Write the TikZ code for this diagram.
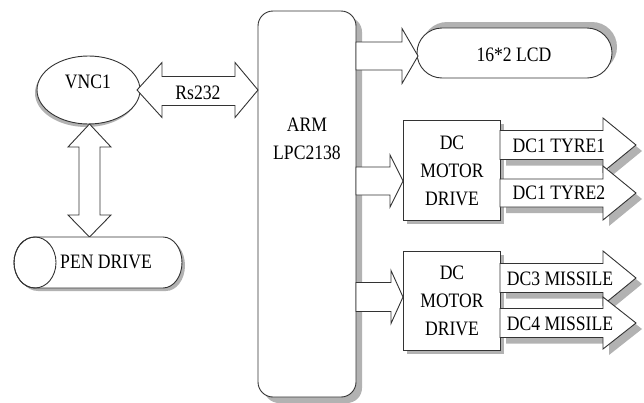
\documentclass[tikz,border=0pt]{standalone}
\usepackage{fontspec}
\setmainfont{Liberation Serif}[FakeStretch=0.86]
\usetikzlibrary{shapes.geometric,shapes.misc,shadows}
\tikzset{
  ln/.style={draw=black!80, line width=0.9pt},
  shd/.style={drop shadow={shadow xshift=#1, shadow yshift=-#1, opacity=1, fill=black!30}},
  shd/.default=5pt,
  txt/.style={font=\fontsize{20.5}{28}\selectfont, inner sep=0pt, align=center},
  blk/.style={ln, fill=white},
}
% right-pointing block arrow: style, x0, xhead, xtip, ycentre, shaft half, head half
\newcommand{\rblk}[7]{\path[#1] (#2,{#5-#6}) -- (#3,{#5-#6}) -- (#3,{#5-#7}) -- (#4,#5) -- (#3,{#5+#7}) -- (#3,{#5+#6}) -- (#2,{#5+#6}) -- cycle;}
\begin{document}
\begin{tikzpicture}[x=1pt,y=-1pt]
\useasboundingbox (0,0) rectangle (644,402);
% ARM block
\node (arm) [blk, shd=6pt, rounded corners=15pt, minimum width=98pt, minimum height=386pt] at (307,204) {};
\node (armtxt) [txt] at (307,139) {ARM\\LPC2138};
% VNC1
\node (vnc) [blk, ellipse, drop shadow={shadow xshift=-2pt, shadow yshift=-3pt, opacity=1, fill=black!30}, minimum width=103pt, minimum height=68pt, inner sep=0pt] at (88.5,90) {};
\node (vnctxt) [txt] at (88,82) {VNC1};
% Rs232 double arrow
\path[blk] (137,90) -- (162,62.5) -- (162,76.5) -- (235,76.5) -- (235,62.5) -- (258,90) -- (235,117.5) -- (235,105.5) -- (162,105.5) -- (162,117.5) -- cycle;
\node (rs) [txt] at (198,93) {Rs232};
% vertical double arrow VNC1 <-> PEN DRIVE
\path[blk] (89.5,124) -- (111,147) -- (100,147) -- (100,215) -- (111,215) -- (89.5,237) -- (68,215) -- (79,215) -- (79,147) -- (68,147) -- cycle;
% PEN DRIVE cylinder
\path[blk, shd=3pt] (35,237) -- (163,237) arc[start angle=-90, end angle=90, x radius=19, y radius=25.5] -- (35,288) arc[start angle=90, end angle=270, x radius=21, y radius=25.5] -- cycle;
\draw[ln] (35,262.5) ellipse[x radius=21, y radius=25.5];
\node (pen) [txt] at (106,262) {PEN DRIVE};
% LCD
\node (lcd) [blk, rounded rectangle, drop shadow={shadow xshift=5pt, shadow yshift=6pt, opacity=1, fill=black!30}, minimum width=195pt, minimum height=50pt, inner sep=0pt] at (514.5,53) {};
\node (lcdtxt) [txt] at (514,55) {16*2 LCD};
\rblk{blk}{356}{402}{418}{56}{14}{27.5}
% DC motor drive boxes
\node (dc1) [blk, shd=4pt, minimum width=97pt, minimum height=100pt] at (451.5,170) {};
\node (dc1txt) [txt] at (452,171) {DC\\MOTOR\\DRIVE};
\node (dc2) [blk, shd=4pt, minimum width=97pt, minimum height=99pt] at (451.5,300.5) {};
\node (dc2txt) [txt] at (452,301) {DC\\MOTOR\\DRIVE};
\rblk{blk}{356}{390}{403}{181}{14}{26}
\rblk{blk}{356}{391}{403}{297}{14.5}{26.5}
% outputs
\rblk{blk,shd=6pt}{500}{603}{636}{145}{14.5}{27}
\rblk{blk,shd=6pt}{500}{603}{636}{193}{14}{27}
\rblk{blk,shd=6pt}{500}{603}{636}{278}{14.5}{27}
\rblk{blk,shd=6pt}{500}{603}{636}{323}{14.5}{26}
\node (t1) [txt] at (559,146) {DC1 TYRE1};
\node (t2) [txt] at (559,193) {DC1 TYRE2};
\node (m3) [txt] at (560,279) {DC3 MISSILE};
\node (m4) [txt] at (560,324) {DC4 MISSILE};
\end{tikzpicture}
\end{document}
